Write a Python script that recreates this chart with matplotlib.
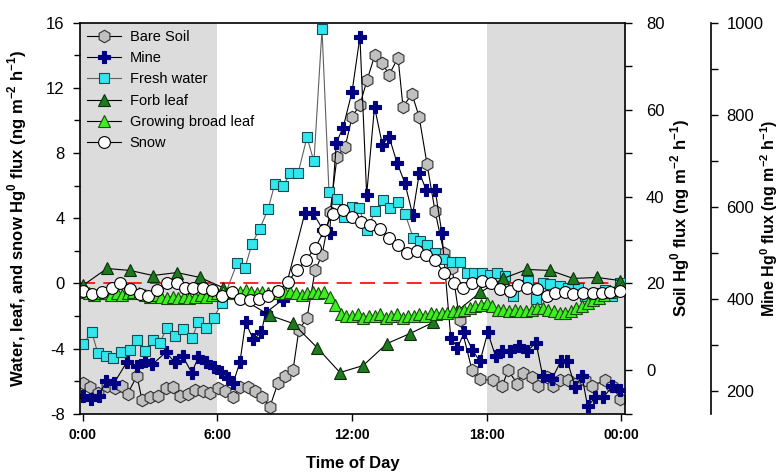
import numpy as np
import matplotlib.pyplot as plt
from matplotlib.ticker import MultipleLocator, FixedLocator

plt.rcParams['font.family'] = ['Liberation Sans', 'DejaVu Sans']
plt.rcParams['mathtext.fontset'] = 'custom'
plt.rcParams['mathtext.rm'] = 'Liberation Sans'
plt.rcParams['mathtext.bf'] = 'Liberation Sans:bold'
plt.rcParams['axes.unicode_minus'] = False

# --- data (time in hours) ---
soil_t = [0.0, 0.31, 0.67, 1.07, 1.43, 1.74, 2.0, 2.41, 2.63, 2.99, 3.35, 3.70, 4.01, 4.33, 4.68,
          5.0, 5.35, 5.66, 6.02, 6.33, 6.69, 7.0, 7.36, 7.67, 7.98, 8.34, 8.70, 9.01, 9.37, 9.63,
          9.99, 10.35, 10.66, 11.02, 11.33, 11.69, 12.0, 12.35, 12.67, 13.02, 13.34, 13.65, 14.05,
          14.27, 14.67, 14.99, 15.34, 15.70, 16.1, 16.46, 16.8, 17.35, 17.7, 18.29, 18.69, 18.96,
          19.36, 19.63, 20.03, 20.29, 20.70, 20.96, 21.28, 21.63, 21.95, 22.39, 22.70, 23.28, 23.6, 23.95]
soil_v = [-2.8, -3.9, -5.1, -3.5, -4.1, -3.5, -5.3, -1.2, -6.7, -6.2, -5.8, -4.1, -3.9, -5.8, -5.3,
          -4.4, -4.6, -5.1, -4.1, -4.6, -6.2, -3.9, -3.7, -4.6, -6.0, -8.3, -2.8, -1.2, 0.2, 9.4,
          12.0, 23.0, 26.5, 36.4, 49.1, 51.4, 58.3, 61.1, 66.8, 72.6, 70.7, 68.0, 71.9,
          60.6, 63.6, 58.3, 47.5, 36.6, 27.0, 23.5, 11.5, 0.0, -2.0, -2.3, -3.5, 0.0,
          -3.0, -0.5, -1.6, -3.5, -1.6, -3.5, -2.3, -2.3, -3.0, -2.3, -3.5, -2.3, -3.5, -6.5]

mine_t = [0.0, 0.35, 0.7, 1.05, 1.4, 1.95, 2.4, 2.75, 3.1, 3.7, 4.1, 4.45, 4.85, 5.15, 5.5,
          5.85, 6.15, 6.45, 6.7, 7.0, 7.25, 7.6, 7.95, 8.15, 8.9, 9.9, 10.26, 10.7, 11.0, 11.3,
          11.6, 12.0, 12.35, 12.65, 13.0, 13.35, 13.65, 14.0, 14.35, 14.7, 15.0, 15.3, 15.7, 16.0,
          16.4, 16.7, 17.0, 17.35, 17.7, 18.05, 18.4, 18.7, 19.05, 19.45, 19.8, 20.2, 20.5, 20.9,
          21.3, 21.6, 21.95, 22.25, 22.5, 22.85, 23.2, 23.6, 23.95]
mine_v = [188, 182, 190, 221, 218, 262, 255, 264, 258, 284, 262, 275, 240, 273, 262,
          253, 242, 229, 218, 262, 349, 312, 327, 370, 398, 587, 587, 550, 544, 739,
          772, 850, 969, 626, 817, 735, 752, 696, 652, 583, 674, 637, 637, 544,
          316, 294, 327, 290, 264, 327, 275, 286, 286, 297, 286, 305, 232, 225,
          264, 264, 208, 232, 167, 186, 186, 210, 203]

water_t = [0.0, 0.40, 0.67, 1.03, 1.34, 1.69, 2.10, 2.41, 2.77, 3.12, 3.43, 3.75, 4.10, 4.46, 4.86,
           5.13, 5.49, 5.84, 6.20, 6.87, 7.23, 7.54, 7.89, 8.25, 8.56, 8.92, 9.23, 9.59, 9.99, 10.30,
           10.66, 10.97, 11.33, 11.64, 12.0, 12.31, 12.67, 13.02, 13.38, 13.69, 14.05, 14.36, 14.72,
           15.03, 15.34, 15.70, 16.06, 16.46, 16.82, 17.13, 17.44, 17.80, 18.15, 18.47, 18.82, 19.18,
           19.49, 19.85, 20.21, 20.52, 20.83, 21.28, 21.63, 22.08, 22.39, 22.93, 23.28, 23.59, 23.95]
water_v = [-3.68, -3.0, -4.29, -4.42, -4.54, -4.17, -4.05, -3.44, -4.11, -3.44, -3.62, -2.70, -3.19, -2.76, -3.37,
           -2.39, -2.70, -2.09, -1.17, 1.23, 0.98, 2.45, 3.37, 4.54, 6.13, 5.95, 6.75, 6.75, 8.96, 7.48,
           15.6, 5.64, 5.21, 4.05, 4.66, 4.60, 3.25, 4.42, 5.09, 4.60, 4.97, 4.29, 2.82,
           2.58, 2.33, 1.84, 1.53, 1.29, 1.29, 0.67, 0.67, 0.67, 0.5, 0.67, 0.43, -0.74,
           -0.1, 0.18, -0.98, 0.06, -0.06, -0.18, -0.25, -0.25, -0.74, -0.61, -0.4, -0.74, 0.06]

forb_t = [0.0, 1.07, 2.1, 3.12, 4.19, 5.22, 6.24, 8.34, 9.37, 10.44, 11.46, 12.49, 13.56, 14.58,
          15.61, 16.68, 17.71, 18.73, 19.8, 20.83, 21.86, 22.93, 23.95]
forb_v = [-0.12, 0.92, 0.80, 0.49, 0.67, 0.37, -0.25, -1.96, -2.45, -3.93, -5.46, -5.03, -3.68, -3.07,
          -2.39, -1.7, -0.55, 0.31, 0.86, 0.80, 0.31, 0.37, 0.18]

broad_t = np.arange(0, 24.01, 0.25)
broad_v = [-0.5, -0.6, -0.7, -0.6, -0.6, -0.7, -0.6, -0.7, -0.6, -0.5, -0.6, -0.7,
           -0.8, -0.7, -0.8, -0.9, -0.8, -0.9, -0.8, -0.9, -0.8, -0.7, -0.8, -0.7,
           -0.6, -0.5, -0.6, -0.5, -0.5, -0.4, -0.5, -0.6, -0.5, -0.6, -0.5, -0.6,
           -0.6, -0.5, -0.6, -0.7, -0.6, -0.5, -0.6, -0.5, -0.8, -1.3, -1.9, -2.0,
           -2.0, -1.9, -2.1, -2.0, -2.0, -1.9, -2.1, -2.0, -1.9, -2.1, -2.0, -2.0,
           -1.9, -2.0, -1.8, -1.9, -1.8, -1.8, -1.7, -1.7, -1.6, -1.5, -1.4, -1.3,
           -1.2, -1.4, -1.6, -1.6, -1.7, -1.6, -1.7, -1.7, -1.6, -1.5, -1.5, -1.6,
           -1.7, -1.8, -1.8, -1.7, -1.5, -1.4, -1.2, -1.0, -0.9, -0.7, -0.5, -0.4, -0.3]

snow_t = [0.0, 0.40, 0.85, 1.29, 1.65, 2.10, 2.54, 2.90, 3.30, 3.75, 4.19, 4.55, 4.91, 5.35, 5.75,
          6.20, 6.65, 7.0, 7.45, 7.85, 8.25, 8.70, 9.14, 9.54, 9.95, 10.35, 10.75, 11.15, 11.6, 12.0,
          12.4, 12.8, 13.25, 13.65, 14.05, 14.45, 14.9, 15.3, 15.7, 16.1, 16.55, 16.95, 17.35, 17.8,
          18.2, 18.6, 19.05, 19.4, 19.8, 20.25, 20.7, 21.05, 21.5, 21.85, 22.3, 22.75, 23.15, 23.5, 23.95]
snow_v = [-0.43, -0.67, -0.55, -0.25, 0.06, -0.31, -0.67, -0.74, -0.37, 0.0, 0.0, -0.25, -0.25, -0.25, -0.37,
          -0.74, -0.55, -0.92, -1.04, -0.98, -0.74, -0.49, 0.12, 0.80, 1.47, 2.15, 3.25, 4.29, 4.48, 4.05,
          3.74, 3.56, 3.37, 2.76, 2.33, 1.9, 2.0, 1.72, 1.41, 0.67, 0.06, -0.25, 0.06, 0.18,
          0.0, -0.31, -0.43, -0.12, -0.25, -0.31, -0.74, -0.61, -0.55, -0.67, -0.61, -0.61, -0.61, -0.55, -0.49]

xticks = [0, 6, 12, 18, 24]
xticklabels = ['0:00', '6:00', '12:00', '18:00', '00:00']

fig = plt.figure(figsize=(7.82, 4.72), dpi=100)
ax = fig.add_axes([0.1023, 0.1229, 0.697, 0.8294])
ax_soil = ax.twinx()
ax_mine = ax.twinx()
ax.set_zorder(3)
ax.patch.set_visible(False)
ax_soil.set_zorder(1)
ax_mine.set_zorder(2)

xlim = (-0.13, 24.17)
# night shading
ax_soil.axvspan(xlim[0], 6, color='#dcdcdc', lw=0, zorder=0)
ax_soil.axvspan(18, xlim[1], color='#dcdcdc', lw=0, zorder=0)

lw = 0.8
mew = 0.8
h_soil, = ax_soil.plot(soil_t, soil_v, '-', color='black', lw=lw, marker='h', ms=9,
                       mfc='#c0c0c0', mec='#303030', mew=mew, label='Bare Soil')
h_mine, = ax_mine.plot(mine_t, mine_v, '-', color='black', lw=lw, marker='P', ms=9,
                       mfc='#000080', mec='#000080', mew=mew, label='Mine')
h_water, = ax.plot(water_t, water_v, '-', color='#606060', lw=lw, marker='s', ms=7,
                   mfc='#33e6ee', mec='#1a4a50', mew=mew, label='Fresh water')
h_forb, = ax.plot(forb_t, forb_v, '-', color='black', lw=lw, marker='^', ms=8.5,
                  mfc='#1f7a1f', mec='#0a300a', mew=mew, label='Forb leaf')
h_broad, = ax.plot(broad_t, broad_v, '-', color='black', lw=lw, marker='^', ms=8,
                   mfc='#3cf01e', mec='#1a4a10', mew=mew, label='Growing broad leaf')
ax.axhline(0, color='red', lw=1.2, ls=(0, (9, 5)), zorder=1.5)
h_snow, = ax.plot(snow_t, snow_v, '-', color='black', lw=lw, marker='o', ms=8.5,
                  mfc='white', mec='black', mew=mew, label='Snow')

# left axis
ax.set_xlim(*xlim)
ax.set_ylim(-8, 16)
ax.yaxis.set_major_locator(MultipleLocator(4))
ax.yaxis.set_minor_locator(MultipleLocator(2))
ax.set_xticks(xticks)
ax.set_xticklabels(xticklabels, fontweight='bold', fontsize=10)
ax.tick_params(axis='y', labelsize=12, direction='out', length=5, width=1, pad=6)
ax.tick_params(axis='y', which='minor', direction='out', length=4, width=1)
ax.tick_params(axis='x', direction='out', length=5, width=1, pad=5)
ax.spines['right'].set_visible(False)
for s in ['left', 'top', 'bottom']:
    ax.spines[s].set_linewidth(1.2)
ax.set_ylabel(r'Water, leaf, and snow Hg$^{\mathbf{0}}$ flux (ng m$^{\mathbf{-2}}$ h$^{\mathbf{-1}}$)',
              fontweight='bold', fontsize=12)
ax.yaxis.set_label_coords(-0.094, 0.5)
ax.set_xlabel('Time of Day', fontweight='bold', fontsize=12, labelpad=10)

# soil axis
ax_soil.set_ylim(-10, 80)
ax_soil.yaxis.set_major_locator(MultipleLocator(20))
ax_soil.yaxis.set_minor_locator(MultipleLocator(10))
ax_soil.tick_params(axis='y', labelsize=12, direction='out', length=5, width=1, pad=10)
ax_soil.tick_params(axis='y', which='minor', direction='out', length=5, width=1)
for s in ['left', 'top', 'bottom']:
    ax_soil.spines[s].set_visible(False)
ax_soil.spines['right'].set_linewidth(1.2)
ax_soil.set_ylabel(r'Soil Hg$^{\mathbf{0}}$ flux (ng m$^{\mathbf{-2}}$ h$^{\mathbf{-1}}$)',
                   fontweight='bold', fontsize=12)
ax_soil.yaxis.set_label_coords(1.08, 0.5)

# mine axis
ax_mine.set_ylim(150, 1000)
ax_mine.yaxis.set_major_locator(MultipleLocator(200))
ax_mine.yaxis.set_minor_locator(FixedLocator([300, 500, 700, 900]))
ax_mine.spines['right'].set_position(('outward', 62))
ax_mine.spines['right'].set_linewidth(1.2)
for s in ['left', 'top', 'bottom']:
    ax_mine.spines[s].set_visible(False)
ax_mine.tick_params(axis='y', labelsize=12, direction='out', length=5, width=1, pad=6)
ax_mine.tick_params(axis='y', which='minor', direction='out', length=5, width=1)
ax_mine.set_ylabel(r'Mine Hg$^{\mathbf{0}}$ flux (ng m$^{\mathbf{-2}}$ h$^{\mathbf{-1}}$)',
                   fontweight='bold', fontsize=11.5)
ax_mine.yaxis.set_label_coords(1.245, 0.5)

handles = [h_soil, h_mine, h_water, h_forb, h_broad, h_snow]
ax.legend(handles=handles, labels=[h.get_label() for h in handles], loc='upper left',
          frameon=False, fontsize=10.5, numpoints=1, handlelength=2.3, handletextpad=0.6,
          labelspacing=0.5, borderaxespad=0.2, borderpad=0.3)

fig.savefig('out.png', dpi=100)
